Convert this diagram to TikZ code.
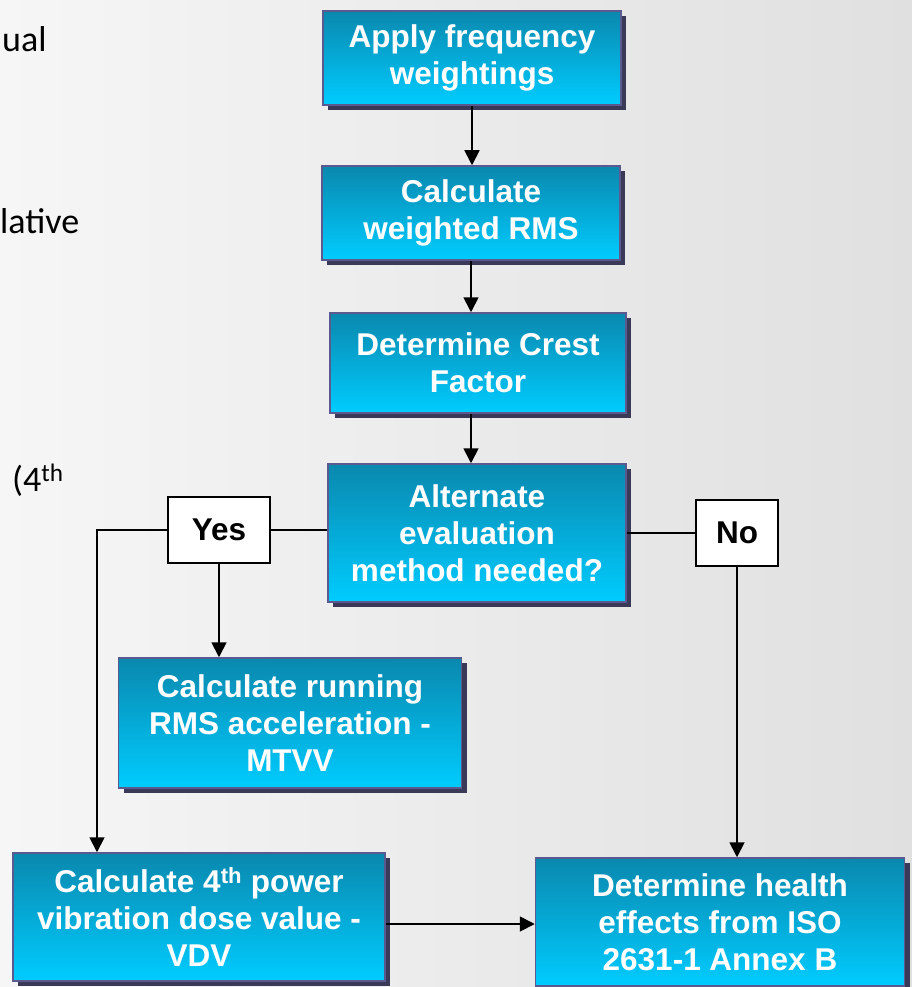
\documentclass[tikz,border=0pt]{standalone}
\usepackage{fontspec}
\setmainfont{Liberation Sans}
\newfontfamily\calib{Carlito}
\usetikzlibrary{arrows.meta,shadows,calc}
\definecolor{boxtop}{HTML}{0A88AE}
\definecolor{boxbot}{HTML}{00CCFF}
\definecolor{boxedge}{HTML}{5A5A90}
\definecolor{shadowc}{HTML}{3A3A58}
\definecolor{bgl}{HTML}{F6F6F6}
\definecolor{bgr}{HTML}{E0E0E0}
\begin{document}
\begin{tikzpicture}[x=1pt,y=-1pt,
  flowbox/.style={rectangle, draw=boxedge, line width=1.5pt,
    top color=boxtop, bottom color=boxbot, text=white,
    font=\fontsize{31.5}{37}\selectfont\bfseries, align=center, inner sep=0pt,
    drop shadow={shadow xshift=5pt, shadow yshift=-5pt, fill=shadowc, opacity=1}},
  answer/.style={rectangle, draw=black, fill=white, line width=1.3pt,
    font=\fontsize{31.5}{37}\selectfont\bfseries, inner sep=0pt},
  link/.style={line width=1.8pt, draw=black},
  arrowlink/.style={link, -{Triangle[width=15pt,length=15pt]}},
  sidetext/.style={anchor=base west, inner sep=0pt, font=\calib\fontsize{36}{40}\selectfont, text=black}
]
\useasboundingbox (0,0) rectangle (912,987);
\fill[left color=bgl, right color=bgr] (0,0) rectangle (912,987);

% left-side fragments of slide text
\node[sidetext] (t1) at (2,52) {ual};
\node[sidetext] (t2) at (0,233) {lative};
\node[sidetext] (t3) at (12,491) {(4\textsuperscript{th}};

% flow boxes
\node[flowbox, minimum width=298pt, minimum height=94pt] (b1) at (472,58) {Apply frequency\\weightings};
\node[flowbox, minimum width=298pt, minimum height=94pt] (b2) at (471,213) {Calculate\\weighted RMS};
\node[flowbox, minimum width=296pt, minimum height=100pt] (b3) at (478,363) {Determine Crest\\Factor};
\node[flowbox, minimum width=298pt, minimum height=138pt] (b4) at (477,533) {Alternate\\evaluation\\method needed?};
\node[flowbox, minimum width=343pt, minimum height=130pt] (b5) at (290,723) {Calculate running\\RMS acceleration -\\MTVV};
\node[flowbox, minimum width=372pt, minimum height=128pt] (b6) at (199,917) {Calculate 4\textsuperscript{th} power\\vibration dose value -\\VDV};
\node[flowbox, minimum width=369pt, minimum height=128pt] (b7) at (720,922) {Determine health\\effects from ISO\\2631-1 Annex B};

% answer boxes
\node[answer, minimum width=102pt, minimum height=66pt] (yes) at (219,530) {Yes};
\node[answer, minimum width=82pt, minimum height=66pt] (no) at (737,533) {No};

\coordinate (yc) at (97,530);

% connectors
\draw[arrowlink] (b1.south) -- (b1.south |- b2.north);
\draw[arrowlink] (b2.south) -- (b2.south |- b3.north);
\draw[arrowlink] (b3.south -| b2.south) -- (b2.south |- b4.north);
\draw[link] (b4.west |- yes.east) -- (yes.east);
\draw[arrowlink] (yes.west) -- (yc) -- (yc |- b6.north);
\draw[arrowlink] (yes.south) -- (yes.south |- b5.north);
\draw[link] (b4.east) -- (b4.east -| no.west);
\draw[arrowlink] (no.south) -- (no.south |- b7.north);
\draw[arrowlink] ([yshift=-7pt]b6.east) -- ([yshift=-7pt]b6.east -| b7.west);
\end{tikzpicture}
\end{document}
